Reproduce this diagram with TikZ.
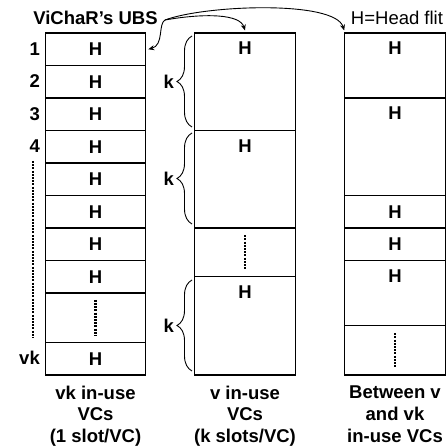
\documentclass[tikz,border=0pt]{standalone}
\usepackage{fontspec}
\setmainfont{Liberation Sans}
\usetikzlibrary{arrows.meta,decorations.pathreplacing}

\begin{document}
\begin{tikzpicture}[
    x=1pt, y=1pt,
    every node/.style={font=\fontsize{18.5}{21.8}\selectfont\bfseries, inner sep=0pt},
    cell/.style={draw, line width=1.1pt, minimum width=100.5pt, anchor=north},
    kbrace/.style={decorate, decoration={brace, amplitude=15pt}, line width=0.9pt},
    vdots/.style={line width=2.6pt, dash pattern=on 2pt off 1.2pt},
    link/.style={line width=0.9pt, -{Stealth[length=6pt, width=5pt]}}
]
\useasboundingbox (0,0) rectangle (448,-446);

% titles
\node (ubs) at (95.5,-18) {ViChaR’s UBS};
\node[font=\fontsize{18.5}{21.8}\selectfont] (hf) at (397,-18) {H=Head flit};

% vk in-use VCs, one slot each
\foreach \i in {1,...,8}
    \node[cell, minimum height=32.5pt] (a\i) at (95.5,{-32.5*\i}) {H};
\node[cell, minimum height=49.5pt] (a9) at (95.5,-292.5) {};
\node[cell, minimum height=32.5pt] (a10) at (95.5,-342) {H};
\foreach \i in {1,...,4}
    \node[anchor=east] (n\i) at (40,{-32.5*\i-16.25}) {\i};
\node[anchor=east] (nvk) at (40,-358.25) {vk};
\draw[vdots] (33,-161) -- (33,-338);
\draw[vdots] ([yshift=18pt]a9.center) -- ([yshift=-18pt]a9.center);

% v in-use VCs, k slots each
\node[cell, minimum height=97.5pt] (b1) at (245,-32.5) {};
\node[cell, minimum height=97.5pt] (b2) at (245,-130) {};
\node[cell, minimum height=48.5pt] (b3) at (245,-227.5) {};
\node[cell, minimum height=98.5pt] (b4) at (245,-276) {};
\node (hb1) at (245,-48.5) {H};
\node (hb2) at (245,-146) {H};
\node (hb4) at (245,-292) {H};
\draw[vdots] ([yshift=17pt]b3.center) -- ([yshift=-17pt]b3.center);

\draw[kbrace] (192,-127) -- (192,-36);
\draw[kbrace] (192,-224) -- (192,-133);
\draw[kbrace] (192,-371) -- (192,-280);
\node[anchor=east] (k1) at (174,-81.5) {k};
\node[anchor=east] (k2) at (174,-178.5) {k};
\node[anchor=east] (k3) at (174,-325.5) {k};

% between v and vk
\node[cell, minimum height=65pt] (c1) at (395,-32.5) {};
\node[cell, minimum height=97.5pt] (c2) at (395,-97.5) {};
\node[cell, minimum height=32.5pt] (c3) at (395,-195) {H};
\node[cell, minimum height=32.5pt] (c4) at (395,-227.5) {H};
\node[cell, minimum height=65pt] (c5) at (395,-260) {};
\node[cell, minimum height=49.5pt] (c6) at (395,-325) {};
\node (hc1) at (395,-48.5) {H};
\node (hc2) at (395,-113.5) {H};
\node (hc5) at (395,-276.5) {H};
\draw[vdots] ([yshift=17pt]c6.center) -- ([yshift=-17pt]c6.center);

% arrows from the UBS label
\coordinate (fork) at (165,-20);
\draw[link] (fork) .. controls (158,-24) and (164,-45) .. ([xshift=2pt]a1.east);
\draw[link] (fork) .. controls (205,-13) and (240,-14) .. ([yshift=2pt]b1.north);
\draw[link] (fork) .. controls (205,-5) and (335,0) .. ([yshift=2pt]c1.north west);

% captions
\node[align=center, anchor=north] (l1) at (95.5,-385.5) {vk in-use\\VCs\\(1 slot/VC)};
\node[align=center, anchor=north] (l2) at (245,-385.5) {v in-use\\VCs\\(k slots/VC)};
\node[align=center, anchor=north] (l3) at (395,-385.5) {Between v\\and vk\\in-use VCs};
\end{tikzpicture}
\end{document}
